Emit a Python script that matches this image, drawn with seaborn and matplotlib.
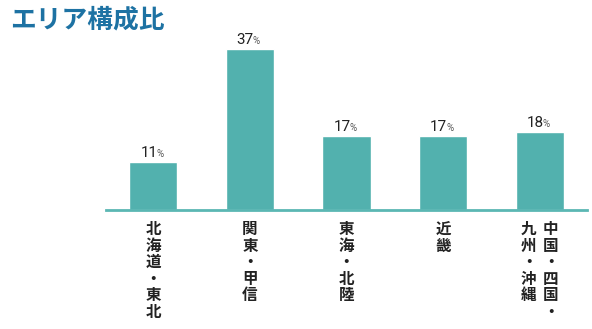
import matplotlib
matplotlib.use("Agg")
import matplotlib.pyplot as plt
import matplotlib.transforms as mtransforms
import seaborn as sns
import pandas as pd

sns.set_theme(style="white")
plt.rcParams['font.family'] = ['Noto Sans CJK JP', 'DejaVu Sans']

categories = ["北海道・東北", "関東・甲信", "東海・北陸", "近畿", "中国・四国・九州・沖縄"]
values = [11, 37, 17, 17, 18]
# label columns (right column first, as read in vertical Japanese)
label_columns = [
    ["北海道・東北"],
    ["関東・甲信"],
    ["東海・北陸"],
    ["近畿"],
    ["中国・四国・", "九州・沖縄"],
]
title = "エリア構成比"

bar_color = "#52b1ae"
text_color = "#222222"

W, H = 592, 329
fig = plt.figure(figsize=(W / 100, H / 100), dpi=100)
ymax = 40
px_per_unit = 4.36
ax_left, ax_right, ax_base = 106, 587, 210
ax_top = ax_base - ymax * px_per_unit
ax = fig.add_axes([ax_left / W, (H - ax_base) / H, (ax_right - ax_left) / W, (ax_base - ax_top) / H])

df = pd.DataFrame({"cat": categories, "val": values})
sns.barplot(data=df, x="cat", y="val", color=bar_color, saturation=1, width=0.5, ax=ax)
ax.set_xlim(-0.49, 4.49)
ax.set_ylim(0, ymax)
for s in ["top", "right", "left"]:
    ax.spines[s].set_visible(False)
ax.spines["bottom"].set_color("#5bb7b3")
ax.spines["bottom"].set_linewidth(2)
ax.set_xticks([])
ax.set_yticks([])
ax.set_xlabel("")
ax.set_ylabel("")

# value labels
for i, v in enumerate(values):
    ax.annotate(str(v), (i, v), xytext=(4, 5), textcoords="offset pixels",
                ha="right", va="baseline", fontsize=11, color=text_color,
                family=["Roboto", "DejaVu Sans"])
    ax.annotate("%", (i, v), xytext=(3, 5), textcoords="offset pixels",
                ha="left", va="baseline", fontsize=7, color="#555555",
                family=["Roboto", "DejaVu Sans"])

# vertical category labels
trans = mtransforms.blended_transform_factory(ax.transData, ax.transAxes)
for i, cols in enumerate(label_columns):
    n = len(cols)
    for j, col in enumerate(cols):
        if n == 1:
            dx = 0
        else:
            dx = 11 - j * 22
        ax.annotate("\n".join(col), (i, 0), xycoords=trans, xytext=(dx, -11),
                    textcoords="offset pixels", ha="center", va="top",
                    fontsize=11.2, color=text_color, linespacing=1.04,
                    fontweight="bold", annotation_clip=False)

fig.text(10 / W, 1 - 20 / H, title, fontsize=18.5, fontweight="bold",
         color="#1d72a3", ha="left", va="center")

fig.savefig("out.png", dpi=100)
